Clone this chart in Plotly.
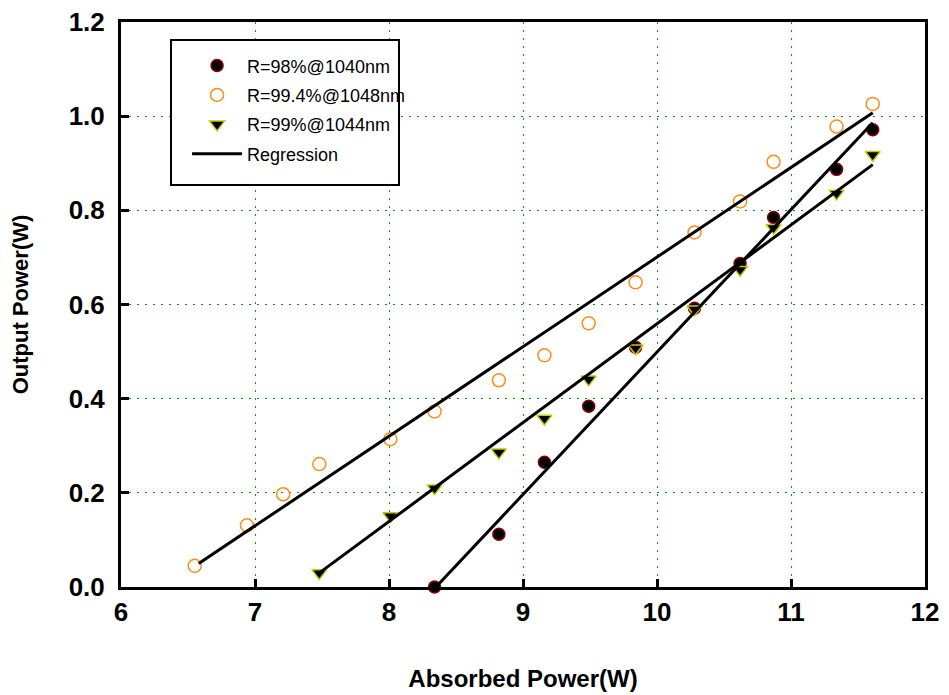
import plotly.graph_objects as go

# ---- data ----
x_orange = [6.55, 6.94, 7.21, 7.48, 8.01, 8.34, 8.82, 9.16, 9.49, 9.84, 10.28, 10.62, 10.87, 11.34, 11.61]
y_orange = [0.045, 0.131, 0.197, 0.261, 0.314, 0.373, 0.439, 0.492, 0.560, 0.647, 0.753, 0.819, 0.903, 0.978, 1.026]

x_tri = [7.48, 8.01, 8.34, 8.82, 9.16, 9.49, 9.84, 10.28, 10.62, 10.87, 11.34, 11.61]
y_tri = [0.030, 0.151, 0.210, 0.286, 0.358, 0.441, 0.507, 0.590, 0.674, 0.763, 0.836, 0.918]

x_dot = [8.34, 8.82, 9.16, 9.49, 9.84, 10.28, 10.62, 10.87, 11.34, 11.61]
y_dot = [0.000, 0.112, 0.265, 0.384, 0.509, 0.592, 0.687, 0.785, 0.887, 0.971]

reg_orange_x = [6.58, 11.61]
reg_orange_y = [0.05, 1.007]
reg_tri_x = [7.48, 11.61]
reg_tri_y = [0.03, 0.897]
reg_dot_x = [8.35, 11.61]
reg_dot_y = [0.0, 0.986]

x_ticks = [6, 7, 8, 9, 10, 11, 12]
y_ticks = [0.0, 0.2, 0.4, 0.6, 0.8, 1.0, 1.2]

names = ["R=98%@1040nm", "R=99.4%@1048nm", "R=99%@1044nm", "Regression"]

FONT = "Liberation Sans, Arial, sans-serif"

fig = go.Figure()

fig.add_trace(go.Scatter(
    x=x_dot, y=y_dot, mode="markers", name=names[0], legendgroup="a",
    marker=dict(symbol="circle", size=12, color="black",
                line=dict(color="#8b0000", width=1.5)),
    cliponaxis=False))
fig.add_trace(go.Scatter(
    x=x_orange, y=y_orange, mode="markers", name=names[1], legendgroup="b",
    marker=dict(symbol="circle-open", size=13, color="#ff8c1a",
                line=dict(color="#ff8c1a", width=1.5)),
    cliponaxis=False))
fig.add_trace(go.Scatter(
    x=x_tri, y=y_tri, mode="markers", name=names[2], legendgroup="c",
    marker=dict(symbol="triangle-down", size=13, color="black",
                line=dict(color="#c8c800", width=1.5)),
    cliponaxis=False))

for i, (rx, ry) in enumerate([(reg_orange_x, reg_orange_y),
                              (reg_tri_x, reg_tri_y),
                              (reg_dot_x, reg_dot_y)]):
    fig.add_trace(go.Scatter(
        x=rx, y=ry, mode="lines", name=names[3], legendgroup="d",
        showlegend=(i == 0),
        line=dict(color="black", width=3), cliponaxis=False))

axis_common = dict(
    showline=True, linecolor="black", linewidth=3, mirror=True,
    ticks="inside", ticklen=8, tickwidth=3, tickcolor="black",
    showgrid=True, gridcolor="#0a9a0a", gridwidth=1.2, griddash="2px,6px",
    zeroline=False, automargin=False,
    tickfont=dict(family=FONT, size=26, color="black", weight="bold"),
)

fig.update_xaxes(
    range=[6, 12], tickvals=x_ticks, ticktext=[str(v) for v in x_ticks],
    title=dict(text="Absorbed Power(W)", standoff=44,
               font=dict(family=FONT, size=24, color="black", weight="bold")),
    **axis_common)
fig.update_yaxes(
    range=[0, 1.2], tickvals=y_ticks, ticktext=[f"{v:.1f}" for v in y_ticks],
    ticklabelstandoff=8,
    title=dict(text="Output Power(W)", standoff=34,
               font=dict(family=FONT, size=22, color="black", weight="bold")),
    **axis_common)

# legend box
x0p = (171 - 121) / 804
x1p = (399 - 121) / 804
y1p = (587 - 40) / 565
y0p = (587 - 185) / 565
fig.add_shape(type="rect", xref="paper", yref="paper",
              x0=x0p, x1=x1p, y0=y0p, y1=y1p,
              line=dict(color="black", width=2), fillcolor="white", layer="above")

fig.update_layout(
    width=949, height=695,
    margin=dict(l=121, r=24, t=22, b=108),
    paper_bgcolor="white", plot_bgcolor="white",
    showlegend=True,
    legend=dict(x=x0p + 0.02, y=y1p - 0.013, xanchor="left", yanchor="top",
                bgcolor="rgba(0,0,0,0)", borderwidth=0,
                font=dict(family=FONT, size=18, color="black"),
                tracegroupgap=3, itemwidth=50),
)

fig.write_html("out.html")
